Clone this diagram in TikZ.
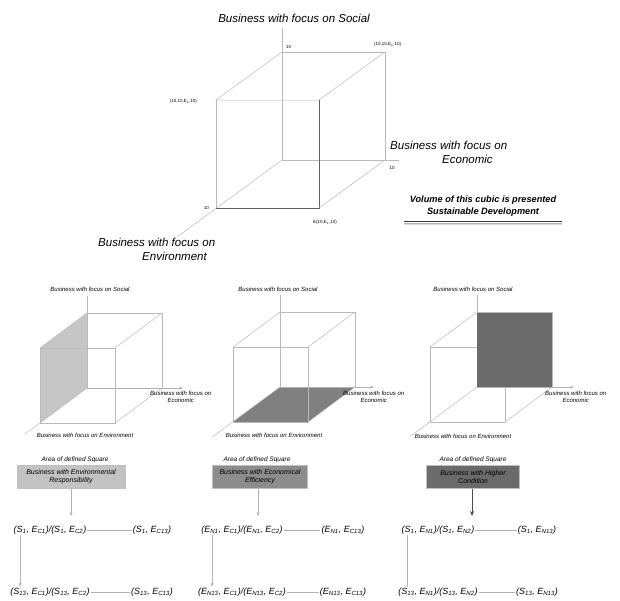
\documentclass[tikz,border=0pt]{standalone}
\usepackage{fontspec}
\setmainfont{Liberation Sans}
\usetikzlibrary{arrows.meta}
\tikzset{
  edge/.style={draw=gray!55, line width=0.5pt},
  darkedge/.style={draw=gray!75!black, line width=0.6pt},
  biglbl/.style={font=\fontsize{11.5}{14}\selectfont\itshape, inner sep=0pt},
  tinylbl/.style={font=\fontsize{4.5}{5}\selectfont, inner sep=0pt},
  smalllbl/.style={font=\fontsize{6}{7}\selectfont\itshape, align=center, inner sep=0pt},
  arealbl/.style={font=\fontsize{6.5}{7.5}\selectfont\itshape, inner sep=0pt},
  formula/.style={font=\fontsize{9}{10}\selectfont\itshape, inner sep=1pt},
  areabox/.style={draw=gray!50, font=\fontsize{7}{8}\selectfont\itshape, align=center, minimum height=23pt, inner sep=1pt},
  arr/.style={-{Stealth[length=4pt,width=3pt]}, draw=gray!60, line width=0.5pt},
  link/.style={draw=gray!60, line width=0.5pt},
}
\newcommand\sbs[1]{\textsubscript{#1}}
\begin{document}
\begin{tikzpicture}[x=1pt,y=-1pt]
\useasboundingbox (0,0) rectangle (620,600);
% ---------- main cube ----------
\coordinate (O) at (282,160);
\coordinate (X) at (385,160);
\coordinate (Y) at (282,52);
\coordinate (XY) at (385,52);
\coordinate (F) at (216,208);
\coordinate (FX) at (319,208);
\coordinate (FY) at (216,100);
\coordinate (FXY) at (319,100);
\coordinate (Stop) at (282,28);
\coordinate (Eend) at (177,237);
\coordinate (Xend) at (399,160);
\draw[edge] (Stop) -- (O) -- (Xend);
\draw[edge] (O) -- (Eend);
\draw[edge] (Y) -- (XY) -- (X);
\draw[edge] (Y) -- (FY) -- (FXY) -- (XY);
\draw[edge] (FY) -- (F);
\draw[darkedge] (F) -- (FX) -- (FXY);
\draw[edge] (X) -- (FX);

\node[biglbl] (tsoc) at (294,18) {Business with focus on Social};
\node[biglbl, align=left, anchor=north west] (teco) at (390,141) {Business with focus on\\\hspace{52pt}Economic};
\node[biglbl, align=left, anchor=north west] (tenv) at (98,238) {Business with focus on\\\hspace{44pt}Environment};
\node[tinylbl, anchor=west] (l1) at (286,47) {10};
\node[tinylbl, anchor=west] (l2) at (374,44) {(10,10,E\sbs{s},10)};
\node[tinylbl, anchor=east] (l3) at (197,101) {(10,10,E\sbs{s},10)};
\node[tinylbl, anchor=east] (l4) at (209,208) {10};
\node[tinylbl] (l5) at (392,168) {10};
\node[tinylbl] (l6) at (325,222) {E(10,E\sbs{s},10)};
\node[font=\fontsize{9.2}{12}\selectfont\bfseries\itshape, align=center, inner sep=0pt] (vol) at (483,206)
  {Volume of this cubic is presented\\Sustainable Development};
\draw[line width=1.2pt, black!80] (vol.south west) ++(-6,5) coordinate (u1) -- ([xshift=6pt]vol.south east |- u1);
\draw[line width=1pt, gray!60] ([yshift=-1.6pt]u1) -- ([xshift=6pt,yshift=-1.6pt]vol.south east |- u1);
\draw[line width=0.8pt, gray!30] ([yshift=-3pt]u1) -- ([xshift=6pt,yshift=-3pt]vol.south east |- u1);

% ---------- panel 1 ----------
\begin{scope}[shift={(87,388)}]
  \fill[gray!45] (0,0) -- (0,-75) -- (-47,-40) -- (-47,35) -- cycle;
  \draw[edge] (0,-92) -- (0,0);
  \draw[arr] (0,0) -- (96,0);
  \draw[edge] (0,0) -- (-62,46);
  \draw[edge] (0,-75) -- (75,-75) -- (75,0);
  \draw[edge] (0,-75) -- (-47,-40) (75,-75) -- (28,-40) (75,0) -- (28,35);
  \draw[edge] (-47,35) -- (28,35) -- (28,-40) -- (-47,-40) -- cycle;
\end{scope}
\node[smalllbl] (p1s) at (90,289) {Business with focus on Social};
\node[smalllbl, anchor=north west] (p1e) at (150,391) {Business with focus on\\Economic};
\node[smalllbl] (p1n) at (85,435) {Business with focus on Environment};
\node[arealbl] (p1a) at (75,460) {Area of defined Square};
\node[areabox, fill=black!24, minimum width=108pt] (p1b) at (71,477) {Business with Environmental\\Responsibility};
\coordinate (p1t) at (71,516);
\draw[arr] (p1b) -- (p1t);
\node[formula] (p1f11) at (50,530) {(S\sbs{1}, E\sbs{C1})/(S\sbs{1}, E\sbs{C2})};
\node[formula] (p1f12) at (152,530) {(S\sbs{1}, E\sbs{C13})};
\node[formula] (p1f21) at (50,592) {(S\sbs{13}, E\sbs{C1})/(S\sbs{13}, E\sbs{C2})};
\node[formula] (p1f22) at (152,592) {(S\sbs{13}, E\sbs{C13})};
\draw[link] (p1f11) -- (p1f12);
\draw[link] (p1f21) -- (p1f22);
\coordinate (p1v) at (20,560);
\draw[arr] (p1f11.south -| p1v) -- (p1f21.north -| p1v);

% ---------- panel 2 ----------
\begin{scope}[shift={(280,387)}]
  \fill[black!50] (0,0) -- (75,0) -- (28,35) -- (-47,35) -- cycle;
  \draw[edge] (0,-92) -- (0,0);
  \draw[arr] (0,0) -- (94,0);
  \draw[edge] (0,0) -- (-68,50);
  \draw[edge] (0,-75) -- (75,-75) -- (75,0);
  \draw[edge] (0,-75) -- (-47,-40) (75,-75) -- (28,-40) (75,0) -- (28,35);
  \draw[edge] (-47,35) -- (28,35) -- (28,-40) -- (-47,-40) -- cycle;
\end{scope}
\node[smalllbl] (p2s) at (278,289) {Business with focus on Social};
\node[smalllbl, anchor=north west] (p2e) at (343,391) {Business with focus on\\Economic};
\node[smalllbl] (p2n) at (274,435) {Business with focus on Environment};
\node[arealbl] (p2a) at (257,460) {Area of defined Square};
\node[areabox, fill=black!45, minimum width=95pt] (p2b) at (260,477) {Business with Economical\\Efficiency};
\coordinate (p2t) at (258,516);
\draw[arr] (p2b.south -| p2t) -- (p2t);
\node[formula] (p2f11) at (242,530) {(E\sbs{N1}, E\sbs{C1})/(E\sbs{N1}, E\sbs{C2})};
\node[formula] (p2f12) at (343,530) {(E\sbs{N1}, E\sbs{C13})};
\node[formula] (p2f21) at (242,592) {(E\sbs{N13}, E\sbs{C1})/(E\sbs{N13}, E\sbs{C2})};
\node[formula] (p2f22) at (343,592) {(E\sbs{N13}, E\sbs{C13})};
\draw[link] (p2f11) -- (p2f12);
\draw[link] (p2f21) -- (p2f22);
\coordinate (p2v) at (212,560);
\draw[arr] (p2f11.south -| p2v) -- (p2f21.north -| p2v);

% ---------- panel 3 ----------
\begin{scope}[shift={(477,387)}]
  \draw[edge] (0,-92) -- (0,0);
  \draw[arr] (0,0) -- (97,0);
  \draw[edge] (0,0) -- (-66,49);
  \draw[edge] (0,-75) -- (-47,-40) (75,-75) -- (28,-40) (75,0) -- (28,35);
  \draw[edge] (-47,35) -- (28,35) -- (28,-40) -- (-47,-40) -- cycle;
  \fill[black!58] (0,0) -- (75,0) -- (75,-75) -- (0,-75) -- cycle;
  \draw[edge] (0,-75) -- (75,-75) -- (75,0);
\end{scope}
\node[smalllbl] (p3s) at (473,289) {Business with focus on Social};
\node[smalllbl, anchor=north west] (p3e) at (545,391) {Business with focus on\\Economic};
\node[smalllbl] (p3n) at (463,436) {Business with focus on Environment};
\node[arealbl] (p3a) at (473,460) {Area of defined Square};
\node[areabox, fill=black!58, minimum width=93pt] (p3b) at (473,477) {Business with Higher\\Condition};
\coordinate (p3t) at (472,516);
\draw[-{Stealth[length=5pt,width=4pt]}, draw=black!70, line width=0.8pt] (p3b.south -| p3t) -- (p3t);
\node[formula] (p3f11) at (438,530) {(S\sbs{1}, E\sbs{N1})/(S\sbs{1}, E\sbs{N2})};
\node[formula] (p3f12) at (537,530) {(S\sbs{1}, E\sbs{N13})};
\node[formula] (p3f21) at (438,592) {(S\sbs{13}, E\sbs{N1})/(S\sbs{13}, E\sbs{N2})};
\node[formula] (p3f22) at (537,592) {(S\sbs{13}, E\sbs{N13})};
\draw[link] (p3f11) -- (p3f12);
\draw[link] (p3f21) -- (p3f22);
\coordinate (p3v) at (407,560);
\draw[link] (p3f11.south -| p3v) -- (p3f21.north -| p3v);
\end{tikzpicture}
\end{document}
